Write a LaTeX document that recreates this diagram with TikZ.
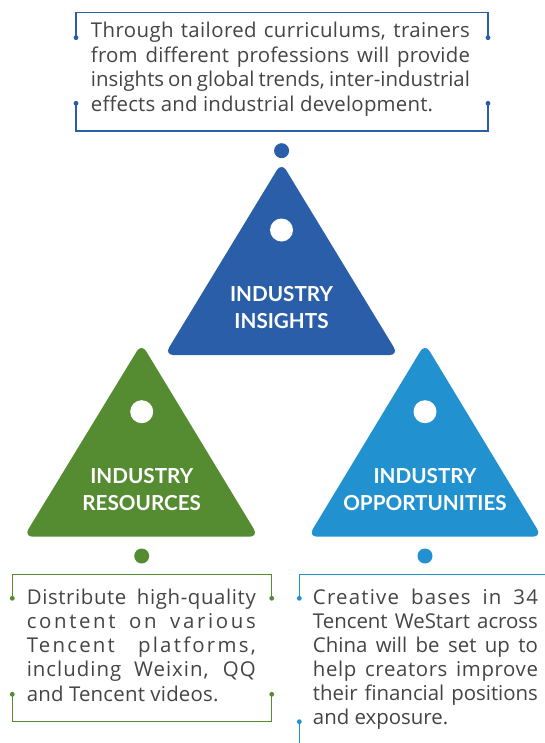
\documentclass[tikz,border=0pt]{standalone}
\usepackage{fontspec}
\setmainfont{Open Sans}
\newfontfamily\labfont{Lato}
\definecolor{cdark}{HTML}{2A5EA8}
\definecolor{cgreen}{HTML}{558B31}
\definecolor{clight}{HTML}{2191D0}
\definecolor{bodygray}{HTML}{444444}
\newcommand{\jline}[2]{\makebox[#1][s]{#2}}
\newcommand{\lsp}[2]{{\addfontfeature{LetterSpace=#1}#2}}
\begin{document}
\begin{tikzpicture}[x=0.75pt,y=-0.75pt,
  body/.style={anchor=base west, inner sep=0pt, text=bodygray, font=\fontsize{15.3}{18}\selectfont},
  lab/.style={anchor=base, inner sep=0pt, text=white, font=\labfont\bfseries\fontsize{15.5}{18}\selectfont},
  tri/.style={rounded corners=6.75pt},
  framecol/.style={draw=#1, line width=1pt},
  pin/.style={fill=#1, circle, inner sep=0pt, minimum size=3.6pt},
  bigdot/.style={fill=#1, circle, inner sep=0pt, minimum size=11.25pt},
  hole/.style={fill=white, circle, inner sep=0pt, minimum size=17.25pt}]
\useasboundingbox (0,0) rectangle (545,743);
\clip (0,0) rectangle (545,743);

% ---------- triangles ----------
\fill[cdark, tri]  (281.5,162.5) -- (398.5,355) -- (164.5,355) -- cycle;
\fill[cgreen, tri] (141.5,343.5) -- (258.5,536.7) -- (23.8,536.7) -- cycle;
\fill[clight, tri] (425,343.5) -- (541.8,536.7) -- (308.2,536.7) -- cycle;

\node[hole] (h1) at (281.5,230) {};
\node[hole] (h2) at (141.7,411.7) {};
\node[hole] (h3) at (425,411.7) {};

\node[bigdot=cdark]  (d1) at (281.6,150.7) {};
\node[bigdot=cgreen] (d2) at (141.7,556) {};
\node[bigdot=clight] (d3) at (425,556) {};

\node[lab] (l1a) at (281.5,301.7) {INDUSTRY};
\node[lab] (l1b) at (281.5,328.3) {INSIGHTS};
\node[lab] (l2a) at (141.7,483.3) {INDUSTRY};
\node[lab] (l2b) at (141.7,510.7) {RESOURCES};
\node[lab] (l3a) at (425,483.3) {INDUSTRY};
\node[lab] (l3b) at (425,510.7) {OPPORTUNITIES};

% ---------- top frame ----------
\coordinate (tTL) at (76,12.3);
\coordinate (tTR) at (488,12.3);
\coordinate (tBL) at (76,131);
\coordinate (tBR) at (488,131);
\node[pin=cdark] (tL1) at (76,37.7) {};
\node[pin=cdark] (tL2) at (76,103.3) {};
\node[pin=cdark] (tR1) at (488,37.7) {};
\node[pin=cdark] (tR2) at (488,103.3) {};
\draw[framecol=cdark] (tL1.center) -- (tTL) -- (tTR) -- (tR1.center);
\draw[framecol=cdark] (tL2.center) -- (tBL) -- (tBR) -- (tR2.center);

\node[body] (t1) at (90.7,37.7) {\jline{284.25pt}{\lsp{2}{Through tailored curriculums, trainers}}};
\node[body] (t2) at (90.7,62.2) {\jline{284.25pt}{\lsp{1}{from different professions will provide}}};
\node[body] (t3) at (90.7,86.6) {\jline{284.25pt}{insights on global trends, inter-industrial}};
\node[body] (t4) at (90.7,111) {\lsp{1}{effects and industrial development.}};

% ---------- bottom-left frame ----------
\coordinate (gTL) at (12.3,574.3);
\coordinate (gTR) at (271.7,574.3);
\coordinate (gBL) at (12.3,721.7);
\coordinate (gBR) at (271.7,721.7);
\node[pin=cgreen] (gL1) at (12.3,598.3) {};
\node[pin=cgreen] (gL2) at (12.3,694.3) {};
\node[pin=cgreen] (gR1) at (271.7,598.3) {};
\node[pin=cgreen] (gR2) at (271.7,694.3) {};
\draw[framecol=cgreen] (gL1.center) -- (gTL) -- (gTR) -- (gR1.center);
\draw[framecol=cgreen] (gL2.center) -- (gBL) -- (gBR) -- (gR2.center);

\node[body] (g1) at (26.5,604.3) {\jline{171.75pt}{\lsp{3}{Distribute high-quality}}};
\node[body] (g2) at (26.5,628.5) {\jline{171.75pt}{\lsp{13}{content on various}}};
\node[body] (g3) at (26.5,652.6) {\jline{171.75pt}{\lsp{11}{Tencent platforms,}}};
\node[body] (g4) at (26.5,676.8) {\jline{171.75pt}{\lsp{5}{including Weixin, QQ}}};
\node[body] (g5) at (26.5,701) {\lsp{1}{and Tencent videos.}};

% ---------- bottom-right frame ----------
\coordinate (bTL) at (299.3,574.3);
\coordinate (bTR) at (550,574.3);
\coordinate (bBL) at (299.3,750);
\node[pin=clight] (bL1) at (299.3,598.3) {};
\node[pin=clight] (bL2) at (299.3,721.7) {};
\draw[framecol=clight] (bL1.center) -- (bTL) -- (bTR);
\draw[framecol=clight] (bL2.center) -- (bBL);

\node[body] (b1) at (312.7,604.3) {\jline{168.75pt}{\lsp{6}{Creative bases in 34}}};
\node[body] (b2) at (312.7,628.3) {\jline{168.75pt}{Tencent WeStart across}};
\node[body] (b3) at (312.7,652.3) {\jline{168.75pt}{China will be set up to}};
\node[body] (b4) at (312.7,676.5) {\jline{168.75pt}{\lsp{3}{help creators improve}}};
\node[body] (b5) at (312.7,700.4) {\jline{168.75pt}{their financial positions}};
\node[body] (b6) at (312.7,724.3) {and exposure.};
\end{tikzpicture}
\end{document}
